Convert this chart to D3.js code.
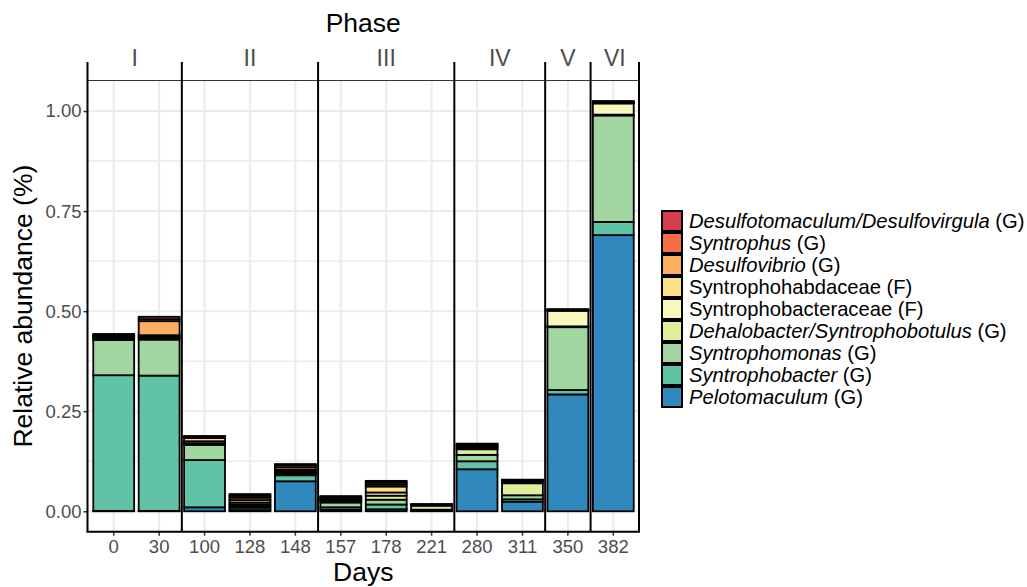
<!DOCTYPE html>
<html>
<head>
<meta charset="utf-8">
<script src="https://cdn.jsdelivr.net/npm/d3@7"></script>
<style>
  body { margin: 0; background: #fff; }
  svg { font-family: "Liberation Sans", Arial, Helvetica, sans-serif; }
</style>
</head>
<body>
<div id="chart"></div>
<script>
/* data */
var days = ['0','30','100','128','148','157','178','221','280','311','350','382'];
var dayPhase = ['I','I','II','II','II','III','III','III','IV','IV','V','VI'];
var phases = ['I','II','III','IV','V','VI'];

// stacked bottom -> top
var taxa = ['Pelotomaculum','Syntrophobacter','Syntrophomonas','Dehalobacter/Syntrophobotulus',
    'Syntrophobacteraceae','Syntrophohabdaceae','Desulfovibrio','Syntrophus','Desulfotomaculum/Desulfovirgula'];
var taxRank = ['G','G','G','G','F','F','G','G','G'];
var taxItalic = [true,true,true,true,false,false,true,true,true];
var taxColors = ['#3088bd','#60c3a6','#a2d6a1','#e1ee99','#f8f7bc','#fee08b','#fdae61','#f46d43','#d53e4f'];

var pelotomaculum        = [0.001,0.001,0.010,0.003,0.075,0.004,0.005,0.001,0.105,0.024,0.292,0.690];
var syntrophobacter      = [0.339,0.338,0.118,0.006,0.015,0.006,0.012,0.001,0.020,0.006,0.011,0.033];
var syntrophomonas       = [0.088,0.090,0.038,0.004,0.004,0.012,0.012,0.002,0.016,0.010,0.157,0.266];
var dehalobacter         = [0.003,0.004,0.004,0.004,0.003,0.004,0.010,0.010,0.014,0.030,0.002,0.002];
var syntrophobacteraceae = [0.004,0.004,0.005,0.005,0.004,0.003,0.008,0.002,0.004,0.004,0.039,0.028];
var syntrophohabdaceae   = [0.002,0.003,0.008,0.006,0.003,0.003,0.015,0.0005,0.003,0.002,0.001,0.002];
var desulfovibrio        = [0.002,0.035,0.003,0.006,0.006,0.002,0.005,0.0005,0.003,0.001,0.001,0.001];
var syntrophus           = [0.001,0.005,0.001,0.005,0.005,0.002,0.005,0.0003,0.002,0.001,0.001,0.001];
var desulfotomaculum     = [0.003,0.006,0.001,0.004,0.003,0.002,0.004,0.0003,0.002,0.001,0.001,0.002];

var seriesValues = [pelotomaculum, syntrophobacter, syntrophomonas, dehalobacter,
    syntrophobacteraceae, syntrophohabdaceae, desulfovibrio, syntrophus, desulfotomaculum];

var yTicks = [0, 0.25, 0.5, 0.75, 1];
var yMinor = [0.125, 0.375, 0.625, 0.875];

/* table for d3.stack */
var table = days.map(function(d, i){
    var row = {day: d};
    taxa.forEach(function(t, j){ row[t] = seriesValues[j][i]; });
    return row;
});
var stacked = d3.stack().keys(taxa)(table);

var width = 1027, height = 587;
var panel = {l: 87.5, r: 639, t: 80.5, b: 531.7, stripTop: 62};

var svg = d3.select('#chart')
    .append('svg')
    .attr('width', width)
    .attr('height', height);

var x = d3.scaleBand()
    .domain(days)
    .range([91, 636])
    .paddingInner(0.1)
    .paddingOuter(0.05);

var y = d3.scaleLinear()
    .domain([-0.051, 1.0763])
    .range([panel.b, panel.t]);

var color = d3.scaleOrdinal().domain(taxa).range(taxColors);

/* grid */
var grid = svg.append('g');
grid.selectAll('.minor')
    .data(yMinor)
    .enter().append('line')
    .attr('x1', panel.l).attr('x2', panel.r)
    .attr('y1', function(d){ return y(d); })
    .attr('y2', function(d){ return y(d); })
    .style('stroke', '#ebebeb').style('stroke-width', 1.5);
grid.selectAll('.major')
    .data(yTicks)
    .enter().append('line')
    .attr('x1', panel.l).attr('x2', panel.r)
    .attr('y1', function(d){ return y(d); })
    .attr('y2', function(d){ return y(d); })
    .style('stroke', '#ebebeb').style('stroke-width', 2);
grid.selectAll('.vert')
    .data(days)
    .enter().append('line')
    .attr('x1', function(d){ return x(d) + x.bandwidth()/2; })
    .attr('x2', function(d){ return x(d) + x.bandwidth()/2; })
    .attr('y1', panel.t).attr('y2', panel.b)
    .style('stroke', '#ebebeb').style('stroke-width', 2);

/* stacked bars */
svg.append('g')
    .selectAll('g')
    .data(stacked)
    .enter().append('g')
    .style('fill', function(d){ return color(d.key); })
    .selectAll('rect')
    .data(function(d){ return d; })
    .enter().append('rect')
    .attr('x', function(d){ return x(d.data.day); })
    .attr('width', x.bandwidth())
    .attr('y', function(d){ return y(d[1]); })
    .attr('height', function(d){ return y(d[0]) - y(d[1]); })
    .style('stroke', 'black')
    .style('stroke-width', 1.8);

/* axes */
var yAxis = svg.append('g')
    .attr('transform', 'translate(' + panel.l + ',0)')
    .call(d3.axisLeft(y).tickValues(yTicks).tickFormat(d3.format('.2f')).tickSize(4).tickPadding(2));
var xAxis = svg.append('g')
    .attr('transform', 'translate(0,' + panel.b + ')')
    .call(d3.axisBottom(x).tickSize(4).tickPadding(4));
[yAxis, xAxis].forEach(function(a){
    a.select('.domain').remove();
    a.selectAll('line').style('stroke', '#333').style('stroke-width', 1.5);
    a.selectAll('text').style('fill', '#4d4d4d').style('font-size', '18.5px');
});

/* phase strip + panel borders */
var boundaries = [];
days.forEach(function(d, i){
    if (i > 0 && dayPhase[i] !== dayPhase[i-1]) {
        boundaries.push((x(days[i-1]) + x.bandwidth() + x(d)) / 2);
    }
});
var edges = [panel.l].concat(boundaries).concat([panel.r]);

svg.append('line')
    .attr('x1', panel.l).attr('x2', panel.r)
    .attr('y1', panel.t).attr('y2', panel.t)
    .style('stroke', '#333').style('stroke-width', 1.2);

svg.selectAll('.edge')
    .data(edges)
    .enter().append('line')
    .attr('x1', function(d){ return d; })
    .attr('x2', function(d){ return d; })
    .attr('y1', panel.stripTop).attr('y2', panel.b)
    .style('stroke', 'black').style('stroke-width', 2);

svg.append('line')
    .attr('x1', panel.l - 1).attr('x2', panel.r + 1)
    .attr('y1', panel.b).attr('y2', panel.b)
    .style('stroke', 'black').style('stroke-width', 2);

svg.selectAll('.strip')
    .data(phases)
    .enter().append('text')
    .attr('x', function(d, i){ return (edges[i] + edges[i+1]) / 2; })
    .attr('y', 65.5)
    .attr('text-anchor', 'middle')
    .style('font-size', '23px')
    .style('fill', '#4d4d4d')
    .text(function(d){ return d; });

/* titles */
var midX = (panel.l + panel.r) / 2;
svg.append('text')
    .attr('x', midX).attr('y', 32)
    .attr('text-anchor', 'middle')
    .style('font-size', '26.5px')
    .text('Phase');
svg.append('text')
    .attr('x', midX).attr('y', 581)
    .attr('text-anchor', 'middle')
    .style('font-size', '26.5px')
    .text('Days');
svg.append('text')
    .attr('transform', 'translate(32,' + ((panel.t + panel.b) / 2) + ') rotate(-90)')
    .attr('text-anchor', 'middle')
    .style('font-size', '26.5px')
    .text('Relative abundance (%)');

/* legend: top of stack first */
var legendOrder = d3.range(taxa.length).reverse();
var legend = svg.append('g')
    .attr('transform', 'translate(662,211)');

legendOrder.forEach(function(j, k){
    var item = legend.append('g')
        .attr('transform', 'translate(0,' + (k * 22) + ')');
    item.append('rect')
        .attr('width', 20).attr('height', 20)
        .style('fill', taxColors[j])
        .style('stroke', 'black')
        .style('stroke-width', 2);
    var label = item.append('text')
        .attr('x', 27).attr('y', 17.2)
        .style('font-size', '20.2px');
    label.append('tspan')
        .style('font-style', taxItalic[j] ? 'italic' : 'normal')
        .text(taxa[j]);
    label.append('tspan')
        .text(' (' + taxRank[j] + ')');
});
</script>
</body>
</html>
